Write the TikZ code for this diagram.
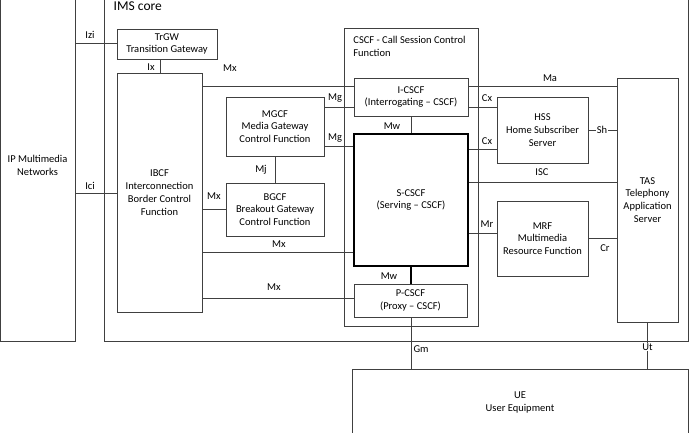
\documentclass[tikz,border=0pt]{standalone}
\usepackage{fontspec}
\setmainfont{Carlito}
\begin{document}
\begin{tikzpicture}[x=1pt,y=-1pt,
  line width=0.8pt, draw=black!75,
  box/.style={draw=black!75, rectangle, align=center, inner sep=0pt,
    font=\fontsize{10.5}{12.8}\selectfont},
  lbl/.style={font=\fontsize{10.5}{12}\selectfont, inner sep=1pt}]
\useasboundingbox (0,0) rectangle (692,432);
\clip (0,0) rectangle (692,432);

\draw[black!75] (0.5,-10) rectangle (75,341);
\draw[black!75] (104,-10) rectangle (688,341);
\node[anchor=west, font=\fontsize{13.5}{15}\selectfont] (imslbl) at (110,6) {IMS core};

\node[box, minimum width=75pt, minimum height=351pt] (ipnet) at (37.5,165.5) {IP Multimedia\\Networks};
\node[box, minimum width=100pt, minimum height=30pt] (trgw) at (167,44) {TrGW\\Transition Gateway};
\node[box, minimum width=85pt, minimum height=239pt] (ibcf) at (159.5,192.5) {IBCF\\Interconnection\\Border Control\\Function};
\node[box, minimum width=98pt, minimum height=59pt] (mgcf) at (275,126.5) {MGCF\\Media Gateway\\Control Function};
\node[box, minimum width=98pt, minimum height=53pt] (bgcf) at (275,209.5) {BGCF\\Breakout Gateway\\Control Function};

\node[box, minimum width=134pt, minimum height=298pt] (cscf) at (411,177) {};
\node[anchor=north west, align=left, inner sep=0pt, font=\fontsize{10.5}{12.5}\selectfont] (cscflbl) at (353,36) {CSCF - Call Session Control\\Function};
\node[box, minimum width=114pt, minimum height=38pt] (icscf) at (411,97) {I-CSCF\\(Interrogating -- CSCF)};
\node[box, draw=black, line width=2.2pt, minimum width=114pt, minimum height=132pt] (scscf) at (411,200) {S-CSCF\\(Serving -- CSCF)};
\node[box, minimum width=113pt, minimum height=33pt] (pcscf) at (410.5,300.5) {P-CSCF\\(Proxy -- CSCF)};

\node[box, minimum width=91pt, minimum height=66pt] (hss) at (542.5,130) {HSS\\Home Subscriber\\Server};
\node[box, minimum width=91pt, minimum height=75pt] (mrf) at (542.5,238.5) {MRF\\Multimedia\\Resource Function};
\node[box, minimum width=61pt, minimum height=244pt] (tas) at (647.5,200) {TAS\\Telephony\\Application\\Server};
\node[box, minimum width=336pt, minimum height=67pt] (ue) at (520,402.5) {UE\\User Equipment};

\draw (ipnet.east |- 0,43) -- (trgw.west |- 0,43);
\node[lbl] (izi) at (90,35) {Izi};
\draw (ibcf.north -| 160,0) -- (trgw.south -| 160,0);
\node[lbl] (ix) at (151,67) {Ix};
\draw (ipnet.east |- 0,193) -- (ibcf.west |- 0,193);
\node[lbl] (ici) at (90,186) {Ici};

\draw (ibcf.east |- 0,86) -- (icscf.west |- 0,86);
\node[lbl] (mx1) at (230,68) {Mx};
\draw (mgcf.east |- 0,107) -- (icscf.west |- 0,107);
\node[lbl] (mg1) at (335,98) {Mg};
\draw (mgcf.east |- 0,146) -- (scscf.west |- 0,146);
\node[lbl] (mg2) at (335,138) {Mg};
\draw (mgcf.south) -- (bgcf.north);
\node[lbl] (mj) at (261,170) {Mj};
\draw (ibcf.east |- bgcf.west) -- (bgcf.west);
\node[lbl] (mx2) at (214,196) {Mx};
\draw (ibcf.east |- 0,252) -- (scscf.west |- 0,252);
\node[lbl] (mx3) at (279,244) {Mx};
\draw (ibcf.east |- 0,298) -- (pcscf.west |- 0,298);
\node[lbl] (mx4) at (274,287) {Mx};

\draw (icscf.south) -- (scscf.north);
\node[lbl] (mw1) at (392,126) {Mw};
\draw[draw=black, line width=2.2pt] (scscf.south) -- (pcscf.north -| scscf.south);
\node[lbl] (mw2) at (389,276) {Mw};
\draw (pcscf.south -| 411,0) -- (ue.north -| 411,0);
\node[lbl] (gm) at (421,349) {Gm};

\draw (icscf.east |- 0,86) -- (tas.west |- 0,86);
\node[lbl] (ma) at (550,78) {Ma};
\draw (icscf.east |- 0,107) -- (hss.west |- 0,107);
\node[lbl] (cx1) at (487,98) {Cx};
\draw (scscf.east |- 0,149) -- (hss.west |- 0,149);
\node[lbl] (cx2) at (487,141) {Cx};
\draw (hss.east) -- (tas.west |- hss.east);
\node[lbl, fill=white] (sh) at (602,130) {Sh};
\draw (scscf.east |- 0,182) -- (tas.west |- 0,182);
\node[lbl] (isc) at (542,172) {ISC};
\draw (scscf.east |- 0,233) -- (mrf.west |- 0,233);
\node[lbl] (mr) at (487,224) {Mr};
\draw (mrf.east) -- (tas.west |- mrf.east);
\node[lbl] (cr) at (605,248) {Cr};
\draw (tas.south) -- (tas.south |- ue.north);
\node[lbl, fill=white, inner sep=0.5pt] (ut) at (647.5,347) {Ut};
\end{tikzpicture}
\end{document}
